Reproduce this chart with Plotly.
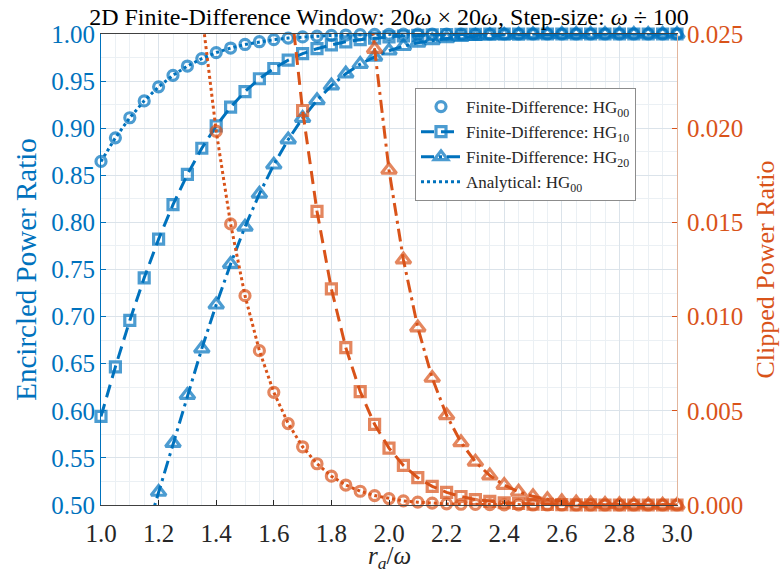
import plotly.graph_objects as go

# aperture radius r_a / omega
r = [1.00, 1.05, 1.10, 1.15, 1.20, 1.25, 1.30, 1.35, 1.40, 1.45,
     1.50, 1.55, 1.60, 1.65, 1.70, 1.75, 1.80, 1.85, 1.90, 1.95,
     2.00, 2.05, 2.10, 2.15, 2.20, 2.25, 2.30, 2.35, 2.40, 2.45,
     2.50, 2.55, 2.60, 2.65, 2.70, 2.75, 2.80, 2.85, 2.90, 2.95, 3.00]

# encircled power ratio (left axis)
enc_hg00 = [0.8647, 0.8898, 0.9111, 0.9290, 0.9439, 0.9561, 0.9660, 0.9739, 0.9802, 0.9851,
            0.9889, 0.9918, 0.9940, 0.9957, 0.9969, 0.9978, 0.9985, 0.9989, 0.9993, 0.9995,
            0.9997, 0.9998, 0.9999, 0.9999, 0.9999, 1.0000, 1.0000, 1.0000, 1.0000, 1.0000,
            1.0000, 1.0000, 1.0000, 1.0000, 1.0000, 1.0000, 1.0000, 1.0000, 1.0000, 1.0000, 1.0000]
enc_hg10 = [0.5940, 0.6467, 0.6959, 0.7412, 0.7822, 0.8188, 0.8509, 0.8787, 0.9024, 0.9223,
            0.9389, 0.9525, 0.9634, 0.9722, 0.9791, 0.9844, 0.9885, 0.9917, 0.9940, 0.9957,
            0.9970, 0.9979, 0.9985, 0.9990, 0.9993, 0.9995, 0.9997, 0.9998, 0.9999, 0.9999,
            1.0000, 1.0000, 1.0000, 1.0000, 1.0000, 1.0000, 1.0000, 1.0000, 1.0000, 1.0000, 1.0000]
enc_hg20 = [0.3233, 0.3662, 0.4129, 0.4625, 0.5138, 0.5656, 0.6167, 0.6660, 0.7126, 0.7558,
            0.7952, 0.8303, 0.8612, 0.8879, 0.9106, 0.9296, 0.9452, 0.9579, 0.9680, 0.9758,
            0.9822, 0.9870, 0.9906, 0.9933, 0.9952, 0.9967, 0.9977, 0.9984, 0.9989, 0.9993,
            0.9995, 0.9997, 0.9998, 0.9999, 0.9999, 1.0000, 1.0000, 1.0000, 1.0000, 1.0000, 1.0000]
ana_hg00 = [0.8647, 0.8898, 0.9111, 0.9290, 0.9439, 0.9561, 0.9660, 0.9739, 0.9802, 0.9851,
            0.9889, 0.9918, 0.9940, 0.9957, 0.9969, 0.9978, 0.9985, 0.9989, 0.9993, 0.9995,
            0.9997, 0.9998, 0.9999, 0.9999, 0.9999, 1.0000, 1.0000, 1.0000, 1.0000, 1.0000,
            1.0000, 1.0000, 1.0000, 1.0000, 1.0000, 1.0000, 1.0000, 1.0000, 1.0000, 1.0000, 1.0000]

# clipped power ratio (right axis)
clip_hg00 = [0.13534, 0.11025, 0.08892, 0.07101, 0.05613, 0.04394, 0.03405, 0.02612, 0.01984, 0.01492,
             0.01111, 0.00819, 0.00598, 0.00432, 0.00309, 0.00219, 0.00153, 0.00106, 0.00073, 0.00050,
             0.00034, 0.00022, 0.00015, 0.00010, 0.00006, 0.00004, 0.00003, 0.00002, 0.00001, 0.00001,
             0.0, 0.0, 0.0, 0.0, 0.0, 0.0, 0.0, 0.0, 0.0, 0.0, 0.0]
clip_hg10 = [0.40601, 0.35335, 0.30411, 0.25881, 0.21780, 0.18124, 0.14913, 0.12133, 0.09762, 0.07766,
             0.06110, 0.04754, 0.03657, 0.02783, 0.02094, 0.01559, 0.01147, 0.00835, 0.00602, 0.00428,
             0.00302, 0.00210, 0.00145, 0.00099, 0.00067, 0.00045, 0.00029, 0.00019, 0.00012, 0.00008,
             0.00005, 0.00003, 0.00002, 0.00001, 0.00001, 0.0, 0.0, 0.0, 0.0, 0.0, 0.0]
clip_hg20 = [0.67668, 0.63385, 0.58709, 0.53747, 0.48617, 0.43439, 0.38331, 0.33401, 0.28739, 0.24417,
             0.20482, 0.16966, 0.13877, 0.11209, 0.08941, 0.07044, 0.05481, 0.04213, 0.03198, 0.02420,
             0.01778, 0.01302, 0.00942, 0.00674, 0.00476, 0.00332, 0.00229, 0.00156, 0.00106, 0.00070,
             0.00046, 0.00030, 0.00019, 0.00012, 0.00008, 0.00005, 0.00003, 0.00002, 0.00001, 0.00001, 0.0]
ana_clip_hg00 = [0.13534, 0.11025, 0.08892, 0.07101, 0.05613, 0.04394, 0.03405, 0.02612, 0.01984, 0.01492,
                 0.01111, 0.00819, 0.00598, 0.00432, 0.00309, 0.00219, 0.00153, 0.00106, 0.00073, 0.00050,
                 0.00034, 0.00022, 0.00015, 0.00010, 0.00006, 0.00004, 0.00003, 0.00002, 0.00001, 0.00001,
                 0.0, 0.0, 0.0, 0.0, 0.0, 0.0, 0.0, 0.0, 0.0, 0.0, 0.0]

BLUE = "#0072BD"
ORANGE = "#D95319"
FONT = "Liberation Serif"
Y1 = (0.5, 1.0)
Y2 = (0.0, 0.025)


def msize(vals, rng, s):
    return [s if rng[0] - 1e-9 <= v <= rng[1] + 1e-9 else 0 for v in vals]


DASH = "13px,7px"
DASHDOT = "13px,5px,3px,5px"
LW = 3
MLW = 3.2
S_CIRC, S_SQ, S_TRI = 10, 10, 13

fig = go.Figure()

# ---- left axis (blue) ----
fig.add_trace(go.Scatter(
    x=r, y=enc_hg00, mode="markers", name="Finite-Difference: HG<sub>00</sub>",
    marker=dict(symbol="circle-open", size=msize(enc_hg00, Y1, S_CIRC), color=BLUE,
                line=dict(width=MLW, color=BLUE)),
    cliponaxis=False))
fig.add_trace(go.Scatter(
    x=r, y=enc_hg10, mode="lines+markers", name="Finite-Difference: HG<sub>10</sub>",
    line=dict(color=BLUE, width=LW, dash=DASH),
    marker=dict(symbol="square-open", size=msize(enc_hg10, Y1, S_SQ), color=BLUE,
                line=dict(width=MLW, color=BLUE)),
    cliponaxis=False))
fig.add_trace(go.Scatter(
    x=r, y=enc_hg20, mode="lines+markers", name="Finite-Difference: HG<sub>20</sub>",
    line=dict(color=BLUE, width=LW, dash=DASHDOT),
    marker=dict(symbol="triangle-up-open", size=msize(enc_hg20, Y1, S_TRI), color=BLUE,
                line=dict(width=MLW, color=BLUE)),
    cliponaxis=False))
fig.add_trace(go.Scatter(
    x=r, y=ana_hg00, mode="lines", name="Analytical: HG<sub>00</sub>",
    line=dict(color=BLUE, width=LW, dash="dot")))

# ---- right axis (orange) ----
fig.add_trace(go.Scatter(
    x=r, y=ana_clip_hg00, mode="lines", yaxis="y2", showlegend=False,
    line=dict(color=ORANGE, width=LW, dash="dot")))
fig.add_trace(go.Scatter(
    x=r, y=clip_hg00, mode="markers", yaxis="y2", showlegend=False,
    marker=dict(symbol="circle-open", size=msize(clip_hg00, Y2, S_CIRC), color=ORANGE,
                line=dict(width=MLW, color=ORANGE)),
    cliponaxis=False))
fig.add_trace(go.Scatter(
    x=r, y=clip_hg10, mode="lines+markers", yaxis="y2", showlegend=False,
    line=dict(color=ORANGE, width=LW, dash=DASH),
    marker=dict(symbol="square-open", size=msize(clip_hg10, Y2, S_SQ), color=ORANGE,
                line=dict(width=MLW, color=ORANGE)),
    cliponaxis=False))
fig.add_trace(go.Scatter(
    x=r, y=clip_hg20, mode="lines+markers", yaxis="y2", showlegend=False,
    line=dict(color=ORANGE, width=LW, dash=DASHDOT),
    marker=dict(symbol="triangle-up-open", size=msize(clip_hg20, Y2, S_TRI), color=ORANGE,
                line=dict(width=MLW, color=ORANGE)),
    cliponaxis=False))

GRID = "#dbe3ea"
MINOR = "#ebf0f4"

fig.update_layout(
    width=780, height=575,
    margin=dict(l=101, r=103, t=34, b=70, autoexpand=False),
    paper_bgcolor="white", plot_bgcolor="white",
    font=dict(family=FONT, size=24, color="#262626"),
    title=dict(text="2D Finite-Difference Window: 20<i>ω</i> × 20<i>ω</i>, Step-size: <i>ω</i> ÷ 100",
               x=0.5, xref="paper", xanchor="center", y=1 - 17 / 575, yref="container",
               yanchor="middle", font=dict(family=FONT, size=24, color="#000000")),
    xaxis=dict(range=[1.0, 3.0], dtick=0.2, tick0=1.0, tickformat=".1f", automargin=False,
               ticks="inside", ticklen=5, tickcolor="#262626", ticklabelstandoff=6,
               showline=True, linecolor="#404040", linewidth=1, mirror=True,
               showgrid=True, gridcolor=GRID, gridwidth=1, zeroline=False,
               minor=dict(dtick=0.05, showgrid=True, gridcolor=MINOR, ticks=""),
               tickfont=dict(family=FONT, size=25, color="#262626")),
    yaxis=dict(range=[0.5, 1.0], dtick=0.05, tick0=0.5, tickformat=".2f", automargin=False,
               ticks="inside", ticklen=5, tickcolor=BLUE,
               showline=True, linecolor=BLUE, linewidth=1,
               showgrid=True, gridcolor=GRID, gridwidth=1, zeroline=False,
               minor=dict(dtick=0.025, showgrid=True, gridcolor=MINOR, ticks=""),
               tickfont=dict(family=FONT, size=25, color=BLUE),
               title=dict(text="Encircled Power Ratio", standoff=6,
                          font=dict(family=FONT, size=29, color=BLUE))),
    yaxis2=dict(range=[0.0, 0.025], dtick=0.005, tick0=0.0, tickformat=".3f", automargin=False,
                overlaying="y", side="right", ticklabelstandoff=4,
                ticks="inside", ticklen=5, tickcolor=ORANGE,
                showline=True, linecolor="#e3b59c", linewidth=1,
                showgrid=False, zeroline=False,
                tickfont=dict(family=FONT, size=25, color=ORANGE),
                title=dict(text="Clipped Power Ratio", standoff=16,
                           font=dict(family=FONT, size=26, color=ORANGE))),
    legend=dict(x=(415 - 101) / 576, y=(505 - 88) / 471, xanchor="left", yanchor="top",
                bgcolor="white", bordercolor="#8c8c8c", borderwidth=1,
                font=dict(family=FONT, size=17, color="#262626"),
                itemwidth=40, tracegroupgap=0),
    showlegend=True,
    annotations=[dict(text="<i>r</i><sub><i>a</i></sub>/<i>ω</i>", xref="paper", yref="paper",
                      x=0.5, y=-(557 - 505) / 471, xanchor="center", yanchor="middle",
                      showarrow=False, font=dict(family=FONT, size=25, color="#262626"))],
)

fig.write_html("out.html")
